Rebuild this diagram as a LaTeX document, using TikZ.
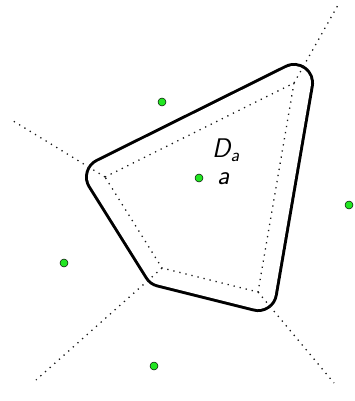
\documentclass[tikz,border=0pt]{standalone}
\usepackage{tikz}
\definecolor{sitegreen}{HTML}{22E622}

\begin{document}
\begin{tikzpicture}[x=0.03cm,y=-0.03cm,
    site/.style={circle,draw=black,line width=0.4pt,fill=sitegreen,inner sep=0pt,minimum size=0.24cm},
    cell/.style={dash pattern=on 1.1pt off 4.2pt,line width=1.1pt,black!90},
    lbl/.style={anchor=base west,inner sep=0pt,font=\fontsize{23}{27}\selectfont\sffamily\slshape}]
  \useasboundingbox (0,0) rectangle (354,401);
  % vertices of the cell of a
  \coordinate (vl) at (105,177);
  \coordinate (vt) at (294,83);
  \coordinate (vr) at (258,292);
  \coordinate (vb) at (162,268);
  % far ends of the open edges
  \coordinate (el) at (10,119);
  \coordinate (et) at (338,5);
  \coordinate (er) at (334,383);
  \coordinate (eb) at (36,380);
  % the cell grown by a disc
  \draw[line width=0.09cm,double distance=1.02cm,line join=round]
    (vl) -- (vt) -- (vr) -- (vb) -- cycle;
  \fill[white] (vl) -- (vt) -- (vr) -- (vb) -- cycle;
  \draw[cell] (vl) -- (vt) -- (vr) -- (vb) -- cycle;
  \draw[cell] (vl) -- (el);
  \draw[cell] (vt) -- (et);
  \draw[cell] (vr) -- (er);
  \draw[cell] (vb) -- (eb);
  % sites
  \node[site] (a) at (199,178) {};
  \node[site] (s1) at (162,102) {};
  \node[site] (s2) at (349,205) {};
  \node[site] (s3) at (64,263) {};
  \node[site] (s4) at (154,366) {};
  \node[lbl] (Da) at (212,157) {D\textsubscript{a}};
  \node[lbl] (la) at (217,184) {a};
\end{tikzpicture}
\end{document}
